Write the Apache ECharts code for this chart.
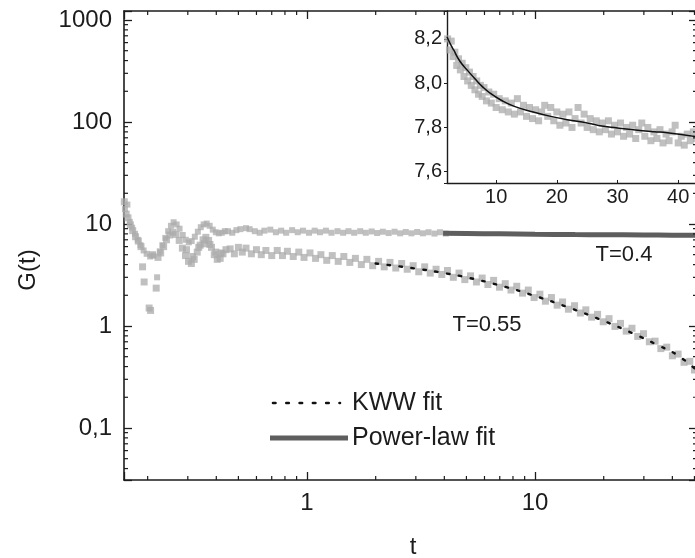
<!DOCTYPE html>
<html><head><meta charset="utf-8">
<script src="https://cdn.jsdelivr.net/npm/echarts@6/dist/echarts.min.js"></script>
<style>html,body{margin:0;padding:0;background:#fff}#c{width:695px;height:558px}</style>
</head><body><div id="c"></div>
<script>
// ---- Main plot: T = 0.55 data (t, G) ----
const t055 = [0.158,0.161,0.164,0.168,0.172,0.177,0.182,0.187,0.190,0.193,0.203,0.206,0.210,0.218,0.222,0.228,0.235,0.242,0.250,0.258,0.266,0.275,0.284,0.293,0.296,0.302,0.311,0.315,0.320,0.330,0.335,0.340,0.350,0.355,0.360,0.370,0.375,0.381,0.392,0.398,0.404,0.416,0.420,0.428,0.441,
0.46,0.48,0.50,0.52,0.54,0.57,0.60,0.63,0.66,0.70,0.74,0.78,0.82,0.87,0.92,0.97,1.03,1.09,1.15,1.22,1.29,1.37,1.45,1.54,1.63,1.73,1.83,1.94,2.06,2.18,2.31,2.45,2.60,2.75,2.92,3.09,3.28,3.47,3.68,3.90,4.13,4.38,4.64,4.92,5.21,5.53,5.86,6.21,6.58,6.98,7.4,7.84,8.31,8.81,9.34,9.9,10.5,11.1,11.8,12.5,13.2,14.0,14.9,15.8,16.7,17.7,18.8,19.9,21.1,22.4,23.7,25.1,26.6,28.2,29.9,31.7,33.6,35.6,37.8,40.0,42.4,45.0,47.7,50.0];
const g055 = [16.5,12.5,11.5,9.8,8.6,7.5,6.8,6.0,3.8,2.7,1.5,1.42,5.0,2.35,4.7,5.2,6.0,7.0,7.8,8.3,7.9,6.9,5.8,4.9,5.6,4.3,4.1,4.8,4.5,5.3,5.9,6.2,7.0,6.4,7.4,6.9,6.3,5.9,5.0,5.3,4.5,4.6,5.2,5.1,5.6,
5.7,5.1,5.9,5.3,5.8,5.1,5.6,5.0,5.5,4.9,5.5,4.9,5.4,4.8,5.3,4.7,5.2,4.6,5.0,4.4,4.9,4.3,4.8,4.2,4.6,4.0,4.5,3.9,4.3,3.8,4.2,3.7,4.1,3.6,3.9,3.4,3.8,3.3,3.6,3.2,3.5,3.0,3.3,2.85,3.1,2.7,2.95,2.55,2.8,2.4,2.6,2.25,2.45,2.1,2.25,1.9,2.05,1.75,1.9,1.6,1.72,1.46,1.58,1.34,1.44,1.22,1.30,1.10,1.18,0.99,1.06,0.89,0.95,0.79,0.84,0.70,0.71,0.60,0.62,0.51,0.53,0.44,0.45,0.37];

// ---- Main plot: T = 0.4 data (t, G) ----
const t04 = [0.159,0.163,0.167,0.171,0.176,0.181,0.186,0.192,0.198,0.205,0.212,0.220,0.226,0.232,0.239,0.246,0.253,0.260,0.268,0.276,0.285,0.294,0.303,0.312,0.322,0.332,0.342,0.352,0.363,0.374,0.386,0.398,0.410,0.423,0.436,
0.45,0.47,0.49,0.51,0.54,0.56,0.59,0.62,0.65,0.69,0.73,0.77,0.81,0.86,0.91,0.96,1.02,1.08,1.14,1.21,1.28,1.36,1.44,1.52,1.61,1.71,1.81,1.92,2.03,2.15,2.28,2.42,2.56,2.71,2.87,3.04,3.22,3.41,3.62,3.83,4.06];
const g04 = [14.0,15.5,10.5,9.2,8.0,7.0,6.2,5.5,5.1,4.8,4.9,3.0,5.4,6.2,7.3,8.5,9.6,10.4,9.9,9.0,7.8,7.0,6.6,6.8,7.5,8.4,9.3,9.9,10.1,9.6,8.8,8.3,8.1,8.2,8.5,
8.5,8.2,8.7,8.9,9.1,8.9,8.5,8.2,8.6,8.8,8.3,8.6,8.2,8.7,8.3,8.6,8.2,8.6,8.3,8.6,8.2,8.5,8.2,8.5,8.2,8.5,8.2,8.45,8.15,8.4,8.15,8.4,8.1,8.35,8.1,8.35,8.1,8.3,8.05,8.3,8.05];

// ---- Fits on main plot ----
const tKww = [2,3,4,5,7,10,14,20,27,35,42,51];
const gKww = [4.1,3.65,3.3,3.0,2.5,1.97,1.52,1.12,0.84,0.64,0.52,0.37];
const tPow = [3.95,5,7,10,15,20,30,40,51];
const gPow = [8.10,8.065,8.0,7.93,7.875,7.845,7.80,7.775,7.75];

// ---- Inset (T = 0.4, linear axes) ----
const tIn = [2.0,2.3,2.6,2.9,3.2,3.5,3.8,4.1,4.4,4.7,5.0,5.3,5.6,5.9,6.2,6.5,6.8,7.1,7.4,7.7,8.0,8.4,8.8,9.2,9.6,10.0,10.5,11.0,11.5,12.0,12.5,13.0,13.5,14.0,14.5,15.0,15.5,16.0,16.5,17.0,17.5,18.0,18.5,19.0,19.5,20.0,20.5,21.0,21.5,22.0,22.5,23.0,23.5,24.0,24.5,25.0,25.5,26.0,26.5,27.0,27.5,28.0,28.5,29.0,29.5,30.0,30.5,31.0,31.5,32.0,32.5,33.0,33.5,34.0,34.5,35.0,35.5,36.0,36.5,37.0,37.5,38.0,38.5,39.0,39.5,40.0,40.5,41.0,41.5,42.0,42.5,43.0];
const gIn = [8.20,8.15,8.19,8.12,8.14,8.08,8.11,8.06,8.09,8.03,8.07,8.01,8.05,7.99,8.03,7.97,8.01,7.95,7.99,7.94,7.98,7.92,7.96,7.91,7.95,7.89,7.93,7.88,7.92,7.87,7.91,7.86,7.93,7.87,7.90,7.85,7.89,7.84,7.88,7.83,7.87,7.90,7.85,7.89,7.83,7.87,7.81,7.86,7.82,7.87,7.80,7.84,7.89,7.82,7.86,7.80,7.84,7.79,7.83,7.78,7.82,7.79,7.83,7.77,7.81,7.78,7.82,7.76,7.80,7.77,7.81,7.75,7.79,7.82,7.76,7.80,7.74,7.78,7.75,7.79,7.73,7.77,7.74,7.78,7.81,7.73,7.76,7.72,7.77,7.74,7.78,7.75];
const tFit = [1.9,2.4,3,4,5.2,6.5,7.9,9,10.7,13,16.1,19,21.7,25,27.1,30,32.6,36,38.2,43.1];
const gFit = [8.21,8.18,8.15,8.10,8.06,8.02,7.98,7.955,7.925,7.895,7.87,7.85,7.835,7.82,7.808,7.798,7.79,7.781,7.776,7.758];

// ---- Axis ranges and labels ----
const X_MIN = 0.1575, X_MAX = 51.3;
const Y_MIN = 0.0309, Y_MAX = 1225;
const IX_MIN = 1.9, IX_MAX = 43.1;
const IY_MIN = 7.549, IY_MAX = 8.326;
const legendNames = ['KWW fit', 'Power-law fit'];
const curveLabels = ['T=0.4', 'T=0.55'];

const FONT = 'Liberation Sans, Arial, sans-serif';
const INK = '#1c1c1c';
const zip = (a, b) => a.map((v, i) => [v, b[i]]);

function logLabel(v) {
  const l = Math.log10(v);
  if (Math.abs(l - Math.round(l)) > 1e-6) return '';
  const r = Math.round(l);
  if (r < 0) return '0,' + '0'.repeat(-r - 1) + '1';
  return String(Math.round(Math.pow(10, r)));
}
function minorList(lo, hi) {
  const out = [];
  for (let e = -3; e <= 3; e++) for (let m = 2; m <= 9; m++) {
    const v = m * Math.pow(10, e);
    if (v > lo && v < hi) out.push(v);
  }
  return out;
}
const minorData = minorList(X_MIN, X_MAX).map(v => [v, 1, 0])
  .concat(minorList(Y_MIN, Y_MAX).map(v => [1, v, 1]));

const axLine = { lineStyle: { color: INK, width: 1.6 } };
const majTick = { inside: true, length: 8, lineStyle: { color: INK, width: 1.3 } };
const lblMain = { fontSize: 24, color: INK, fontFamily: FONT };
const dotStyle = { color: '#ababab', opacity: 0.75 };

const chart = echarts.init(document.getElementById('c'), null, { renderer: 'canvas' });
chart.setOption({
  animation: false,
  backgroundColor: '#fff',
  grid: [
    { left: 124, top: 11, right: -2, bottom: 78, containLabel: false, outerBoundsMode: 'none' },
    { left: 447, top: 11, right: -2, bottom: 375, containLabel: false, outerBoundsMode: 'none' }
  ],
  xAxis: [
    { type: 'log', gridIndex: 0, position: 'bottom', min: X_MIN, max: X_MAX,
      axisLine: axLine, axisTick: majTick, splitLine: { show: false },
      axisLabel: Object.assign({ margin: 11, formatter: logLabel }, lblMain) },
    { type: 'log', gridIndex: 0, position: 'top', min: X_MIN, max: X_MAX,
      axisLine: axLine, axisTick: majTick, splitLine: { show: false },
      axisLabel: { show: false } },
    { type: 'value', gridIndex: 1, position: 'bottom', min: IX_MIN, max: IX_MAX, splitNumber: 4,
      axisLine: { lineStyle: { color: INK, width: 1.4 } },
      axisTick: { inside: true, length: 3, lineStyle: { color: INK } }, splitLine: { show: false },
      axisLabel: { margin: 4, fontSize: 20, color: INK, fontFamily: FONT,
        formatter: v => (Math.abs(v / 10 - Math.round(v / 10)) < 1e-6 ? String(Math.round(v)) : '') } }
  ],
  yAxis: [
    { type: 'log', gridIndex: 0, position: 'left', min: Y_MIN, max: Y_MAX,
      axisLine: axLine, axisTick: majTick, splitLine: { show: false },
      axisLabel: Object.assign({ margin: 12, formatter: logLabel }, lblMain) },
    { type: 'log', gridIndex: 0, position: 'right', min: Y_MIN, max: Y_MAX,
      axisLine: axLine, axisTick: majTick, splitLine: { show: false },
      axisLabel: { show: false } },
    { type: 'value', gridIndex: 1, position: 'left', min: IY_MIN, max: IY_MAX, splitNumber: 4,
      axisLine: { lineStyle: { color: INK, width: 1.4 } },
      axisTick: { inside: false, length: 3, lineStyle: { color: INK } }, splitLine: { show: false },
      axisLabel: { margin: 5, fontSize: 20, color: INK, fontFamily: FONT,
        formatter: v => (Math.abs(v * 5 - Math.round(v * 5)) < 1e-6 ? v.toFixed(1).replace('.', ',') : '') } }
  ],
  series: [
    { type: 'custom', xAxisIndex: 0, yAxisIndex: 0, silent: true, clip: false, z: 5,
      data: minorData, encode: { x: 0, y: 1 },
      renderItem: function (params, api) {
        const cs = params.coordSys;
        const kind = api.value(2);
        const p = api.coord([api.value(0), api.value(1)]);
        const L = 4;
        let segs;
        if (kind === 0) {
          const x = p[0];
          segs = [[x, cs.y + cs.height, x, cs.y + cs.height - L], [x, cs.y, x, cs.y + L]];
        } else {
          const y = p[1];
          segs = [[cs.x, y, cs.x + L, y], [cs.x + cs.width, y, cs.x + cs.width - L, y]];
        }
        return { type: 'group', children: segs.map(s => ({ type: 'line',
          shape: { x1: s[0], y1: s[1], x2: s[2], y2: s[3] },
          style: { stroke: INK, lineWidth: 1.2 } })) };
      } },
    { name: 'T=0.55', type: 'scatter', xAxisIndex: 0, yAxisIndex: 0, data: zip(t055, g055),
      symbol: 'rect', symbolSize: 7, itemStyle: dotStyle, z: 2 },
    { name: 'T=0.4', type: 'scatter', xAxisIndex: 0, yAxisIndex: 0, data: zip(t04, g04),
      symbol: 'rect', symbolSize: 6, itemStyle: dotStyle, z: 2 },
    { name: legendNames[0], type: 'line', xAxisIndex: 0, yAxisIndex: 0, data: zip(tKww, gKww),
      smooth: true, showSymbol: false, symbol: 'none',
      lineStyle: { color: '#111', width: 2.4, type: [2.5, 9.5], cap: 'round' }, z: 4 },
    { name: legendNames[1], type: 'line', xAxisIndex: 0, yAxisIndex: 0, data: zip(tPow, gPow),
      smooth: true, showSymbol: false, symbol: 'none',
      lineStyle: { color: '#5e5e5e', width: 5 }, z: 4 },
    { name: 'inset data', type: 'scatter', xAxisIndex: 2, yAxisIndex: 2, data: zip(tIn, gIn),
      symbol: 'rect', symbolSize: 7, itemStyle: dotStyle, z: 2 },
    { name: 'inset fit', type: 'line', xAxisIndex: 2, yAxisIndex: 2, data: zip(tFit, gFit),
      smooth: true, showSymbol: false, symbol: 'none',
      lineStyle: { color: '#111', width: 1.5 }, z: 4 }
  ],
  graphic: [
    { type: 'text', x: 28, y: 270, rotation: Math.PI / 2,
      style: { text: 'G(t)', font: '24px ' + FONT, fill: INK, align: 'center', verticalAlign: 'middle' } },
    { type: 'text', x: 413, y: 547,
      style: { text: 't', font: '24px ' + FONT, fill: INK, align: 'center', verticalAlign: 'middle' } },
    { type: 'text', x: 624, y: 255,
      style: { text: curveLabels[0], font: '22px ' + FONT, fill: INK, align: 'center', verticalAlign: 'middle' } },
    { type: 'text', x: 487, y: 325,
      style: { text: curveLabels[1], font: '22px ' + FONT, fill: INK, align: 'center', verticalAlign: 'middle' } },
    { type: 'line', shape: { x1: 273, y1: 403, x2: 340, y2: 403 },
      style: { stroke: '#111', lineWidth: 2.6, lineDash: [2.5, 10.8], lineCap: 'round' } },
    { type: 'text', x: 352, y: 403,
      style: { text: legendNames[0], font: '25px ' + FONT, fill: INK, align: 'left', verticalAlign: 'middle' } },
    { type: 'line', shape: { x1: 270, y1: 438, x2: 348, y2: 438 },
      style: { stroke: '#5e5e5e', lineWidth: 5 } },
    { type: 'text', x: 352, y: 438,
      style: { text: legendNames[1], font: '25px ' + FONT, fill: INK, align: 'left', verticalAlign: 'middle' } }
  ]
});
</script></body></html>
